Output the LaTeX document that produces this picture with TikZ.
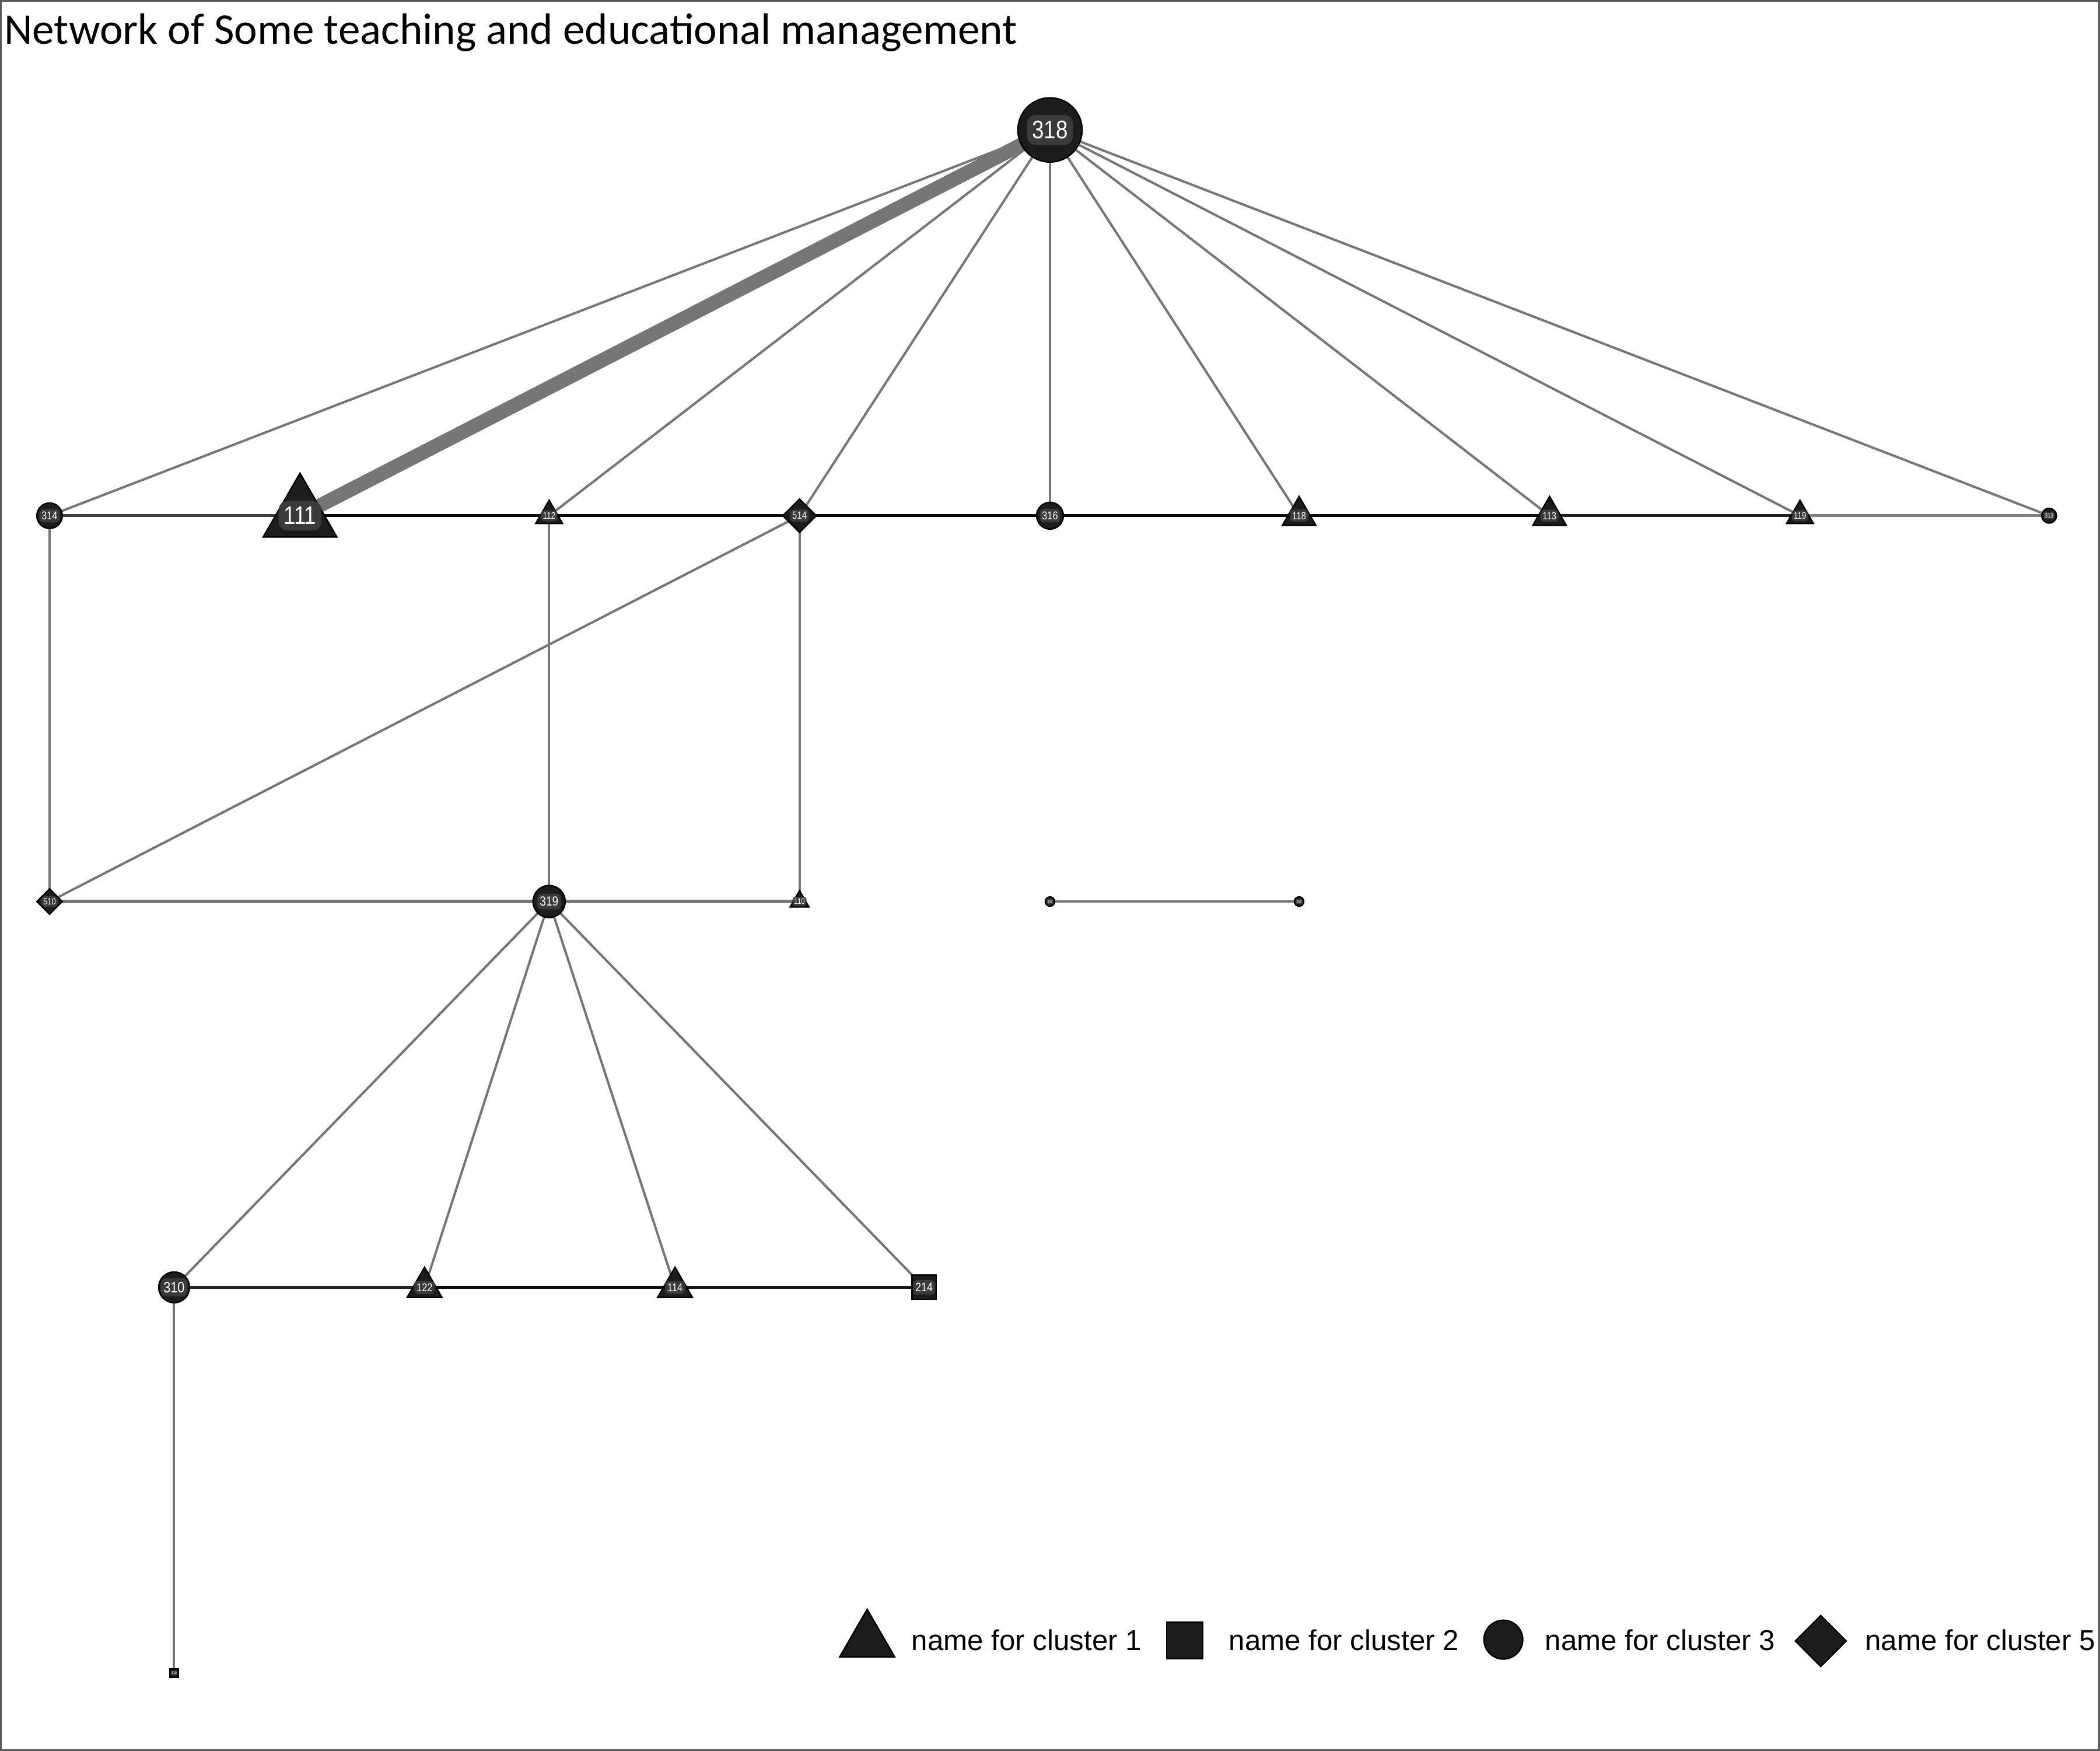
\documentclass[tikz,border=0pt]{standalone}
\usepackage{fontspec}
\setmainfont{Liberation Sans}
\newfontfamily\titlefont{Carlito}
\newfontfamily\lblfont[FakeStretch=0.84]{Liberation Sans}
\usetikzlibrary{shapes.geometric,backgrounds}
\definecolor{nodefill}{HTML}{1C1C1C}
\definecolor{lblfill}{HTML}{3A3A3A}
\definecolor{edgegray}{HTML}{767676}

\begin{document}
\begin{tikzpicture}[x=0.01cm,y=-0.01cm,
  vtx/.style={draw=black,fill=nodefill,line width=0.3pt,inner sep=0pt,outer sep=0pt},
  dot/.style={vtx,circle,minimum size=#1*0.01cm},
  tri/.style={vtx,regular polygon,regular polygon sides=3,minimum size=#1*0.011547cm},
  sq/.style={vtx,rectangle,minimum size=#1*0.01cm},
  dia/.style={vtx,diamond,minimum size=#1*0.01cm},
  lbl/.style={fill=lblfill,text=white,inner xsep=0.2*#1pt,inner ysep=0.24*#1pt,rounded corners=0.35*#1pt,font=\lblfont\fontsize{#1}{#1}\selectfont},
  spoke/.style={draw=edgegray,line width=0.5pt},
  link/.style={draw=edgegray,line width=0.7pt},
  tie/.style={line width=0.63pt},
  frame/.style={draw=black!65,line width=0.4pt,fill=white},
  legtext/.style={font=\fontsize{6.1}{7}\selectfont,anchor=base west,inner sep=0pt},
  titletext/.style={font=\titlefont\fontsize{9.3}{11}\selectfont,anchor=base west,inner sep=0pt}]
  \useasboundingbox (0,0) rectangle (1568,1307);

  \node[titletext] (title) at (2.5,33) {Network of Some teaching and educational management};

  % vertices
  \foreach \n/\x/\y/\sz/\fs in {318/784/97/48/5.4, 314/37/385/19/2.4, 316/784/385/20/2.4, 313/1530/385/11/1.3,
      319/410/673/24/2.8, 311/784/673/7/0.8, 312/970/673/7/0.8, 310/130/961/23/3.2}
    \node[dot=\sz,label={[lbl=\fs]center:\n}] (n\n) at (\x,\y) {};
  \foreach \n/\x/\y/\sz/\fs in {111/224/385/55/5.4, 112/410/385/20/2.0, 118/970/385/25/2.2, 113/1157/385/25/2.2,
      119/1344/385/20/2.0, 110/597/673/14/1.7, 122/317/961/26/2.4, 114/504/961/26/2.4}
    \node[tri=\sz,label={[lbl=\fs]center:\n}] (n\n) at (\x,\y) {};
  \foreach \n/\x/\y/\sz/\fs in {514/597/385/25/2.2, 510/37/673/19/1.9}
    \node[dia=\sz,label={[lbl=\fs]center:\n}] (n\n) at (\x,\y) {};
  \foreach \n/\x/\y/\sz/\fs in {214/690/961/18/2.6, 210/130/1249/6/0.8}
    \node[sq=\sz,label={[lbl=\fs]center:\n}] (n\n) at (\x,\y) {};

  % edges
  \begin{pgfonlayer}{background}
    \draw[frame] (0.6,0.6) rectangle (1567.4,1306.4);
    \draw[spoke,line width=3pt] (n318.center) -- (n111.center);
    \foreach \b in {314,112,514,316,118,113,119,313} \draw[spoke] (n318.center) -- (n\b.center);
    \foreach \a/\b in {314/510, 112/319, 514/110, 514/510, 319/310, 319/122, 319/114, 319/214, 310/210}
      \draw[spoke] (n\a.center) -- (n\b.center);
    \foreach \a/\b in {510/319, 319/110} \draw[link] (n\a.center) -- (n\b.center);
    \draw[link,line width=0.55pt] (n311.center) -- (n312.center);
    \foreach \a/\b/\c in {314/111/black!76, 111/112/black!96, 112/514/black!96, 514/316/black!96, 316/118/black!96,
        118/113/black!96, 113/119/black!88, 119/313/black!50, 310/122/black!86, 122/114/black!96, 114/214/black!90}
      \draw[tie,draw=\c] (n\a.center) -- (n\b.center);
  \end{pgfonlayer}

  % legend
  \node[tri=41] (k1) at (647.5,1225) {};
  \node[legtext] (t1) at (680,1232) {name for cluster 1};
  \node[sq=27] (k2) at (884.5,1224.5) {};
  \node[legtext] (t2) at (917,1232) {name for cluster 2};
  \node[dot=29] (k3) at (1122.5,1224) {};
  \node[legtext] (t3) at (1153,1232) {name for cluster 3};
  \node[dia=38] (k5) at (1359.5,1225) {};
  \node[legtext] (t5) at (1392,1232) {name for cluster 5};
\end{tikzpicture}
\end{document}
